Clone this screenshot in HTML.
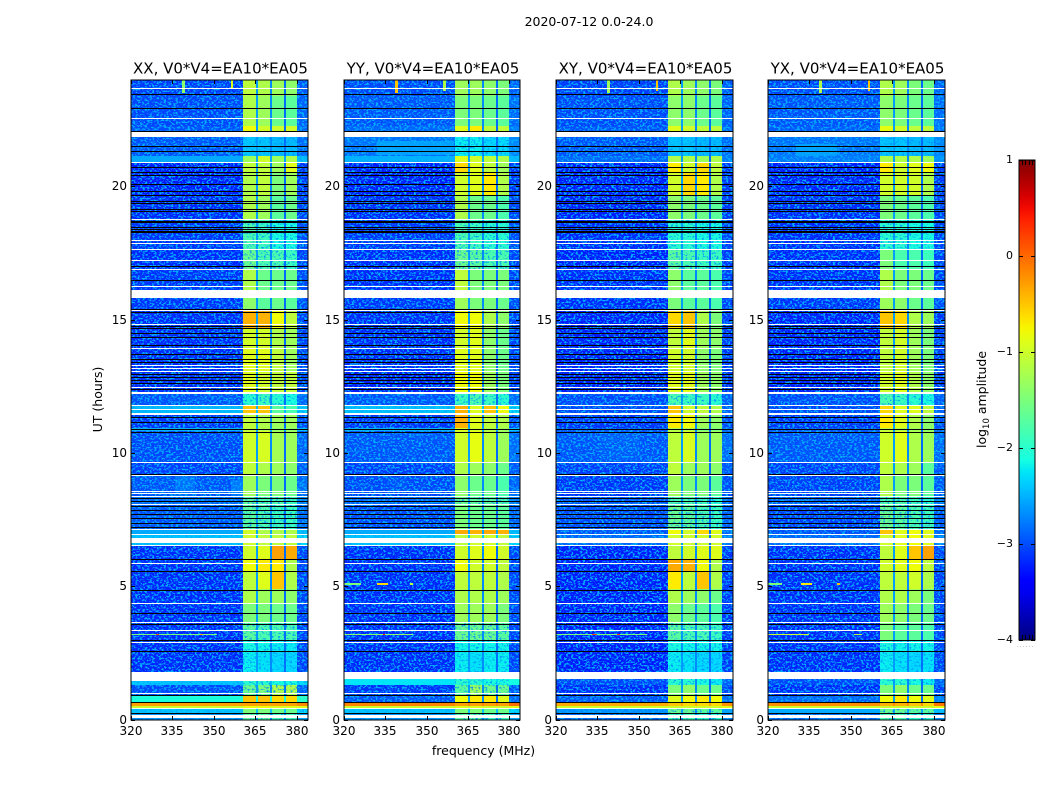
<!DOCTYPE html>
<html lang="en">
<head>
<meta charset="utf-8">
<title>2020-07-12 0.0-24.0</title>
<style>
html,body{margin:0;padding:0;background:#fff;width:1050px;height:800px;overflow:hidden}
svg{display:block}
text{font-family:"DejaVu Sans","Liberation Sans",sans-serif;fill:#000}
</style>
</head>
<body>
<svg id="figure" xmlns="http://www.w3.org/2000/svg" width="1050" height="800" viewBox="0 0 1050 800">
  <defs>
    <filter id="speckle" x="0" y="0" width="100%" height="100%" color-interpolation-filters="sRGB">
      <feTurbulence type="fractalNoise" baseFrequency="0.42 0.55" numOctaves="2" seed="7"/>
      <feColorMatrix type="matrix" values="0 0 0 0 0  0 0 0 0 0.68  0 0 0 0 1  9 0 0 0 -4.6"/>
      <feComposite operator="in" in2="SourceAlpha"/>
    </filter>
    <filter id="band-speckle" x="0" y="0" width="100%" height="100%" color-interpolation-filters="sRGB">
      <feTurbulence type="fractalNoise" baseFrequency="0.42 0.55" numOctaves="2" seed="23"/>
      <feColorMatrix type="matrix" values="0 0 0 0 0  0 0 0 0 0.55  0 0 0 0 1  4 0 0 0 -2.1"/>
      <feComposite operator="in" in2="SourceAlpha"/>
    </filter>
    <linearGradient id="jet-gradient" x1="0" y1="1" x2="0" y2="0"></linearGradient>
  </defs>
  <text x="589" y="26" text-anchor="middle" font-size="12.5">2020-07-12 0.0-24.0</text>
  <text x="483.5" y="755" text-anchor="middle" font-size="12.5">frequency (MHz)</text>
  <text transform="translate(102,399.5) rotate(-90)" text-anchor="middle" font-size="12.5">UT (hours)</text>
  <g id="panels"></g>
  <g id="colorbar"></g>
  <text transform="translate(986,399.5) rotate(-90)" text-anchor="middle" font-size="12.5">log<tspan font-size="8.5" dy="3">10</tspan><tspan dy="-3"> amplitude</tspan></text>
</svg>
<script>
// ---------- chart data (values are log10 amplitude unless noted) ----------
const panelTitles = ["XX, V0*V4=EA10*EA05", "YY, V0*V4=EA10*EA05", "XY, V0*V4=EA10*EA05", "YX, V0*V4=EA10*EA05"];
const xTickValues = [320, 335, 350, 365, 380];
const yTickValues = [0, 5, 10, 15, 20];
const colorbarTicks = [1, 0, -1, -2, -3, -4];
const bandEdgesMHz = [[360.5, 365.2], [365.8, 370.2], [370.9, 375.2], [375.9, 380]];
const gapLevels = [-2.6, -2.7, -2.85];
// lower hour edge of each time block
const rowHours = [0, 0.27, 0.44, 0.52, 0.62, 0.69, 0.94, 1.31, 1.8, 2.6, 3.0, 3.66, 4.4, 4.9, 5.6, 6.05, 6.56, 6.99, 7.15, 8.05, 8.4, 9.2, 9.66, 10.84, 10.95, 11.44, 11.8, 12.25, 13.1, 13.95, 14.7, 15.37, 16.1, 16.9, 17.66, 18.8, 19.7, 20.55, 20.9, 21.15, 21.86, 22.28, 23.4];
// each row: background, band 1, band 2, band 3, band 4
const xxRows = [[-2.7,-1.7,-1.7,-1.9,-1.9],[-2.4,-1.5,-1.5,-1.6,-1.6],[-1.0,-0.8,-0.8,-0.9,-0.9],[-0.3,-0.3,-0.3,-0.3,-0.3],[-1.2,-0.9,-0.9,-0.9,-0.9],[-2.1,-0.5,-0.5,-0.6,-0.6],[-3.05,-1.6,-1.5,-1.2,-1.2],[-2.4,-2.0,-2.0,-2.1,-2.1],[-3.2,-2.2,-2.25,-2.3,-2.3],[-3.2,-2.1,-2.15,-2.2,-2.2],[-3.2,-1.7,-1.8,-1.8,-1.8],[-3.2,-1.5,-1.5,-1.6,-1.6],[-3.2,-1.2,-1.3,-1.3,-1.4],[-3.2,-1.1,-0.9,-0.5,-1.2],[-3.2,-0.8,-0.7,-0.7,-1.2],[-3.2,-1.0,-0.9,-0.3,-0.35],[-2.4,-1.0,-1.1,-1.1,-1.1],[-2.55,-1.0,-1.2,-1.2,-1.2],[-3.0,-1.7,-1.8,-1.9,-1.9],[-2.9,-1.7,-1.8,-1.8,-1.9],[-3.0,-1.3,-1.5,-1.5,-1.6],[-3.1,-1.1,-1.2,-1.3,-1.4],[-3.05,-1.0,-0.95,-1.25,-1.3],[-2.5,-1.1,-1.2,-1.4,-1.4],[-3.15,-1.1,-1.2,-1.3,-1.3],[-2.45,-0.5,-0.5,-1.7,-1.8],[-3.0,-2.0,-1.9,-2.0,-2.1],[-3.2,-0.9,-1.0,-1.1,-1.1],[-3.2,-0.9,-0.9,-1.1,-1.3],[-3.2,-1.0,-1.0,-1.2,-1.3],[-3.2,-0.4,-0.4,-0.8,-1.1],[-3.15,-1.4,-1.7,-1.6,-1.7],[-3.15,-1.2,-1.6,-1.6,-1.6],[-3.2,-1.6,-1.8,-1.8,-1.9],[-3.15,-1.8,-1.9,-2.1,-2.1],[-3.2,-1.2,-1.3,-1.7,-1.6],[-3.25,-1.2,-1.1,-1.5,-1.3],[-3.25,-1.1,-1.1,-1.3,-0.9],[-2.55,-1.3,-1.0,-1.3,-1.2],[-3.0,-2.4,-2.4,-2.45,-2.45],[-3.0,-0.8,-1.0,-1.0,-1.0],[-3.05,-1.2,-1.3,-1.6,-1.7],[-3.1,-1.1,-1.2,-1.3,-1.4]];
const yyRows = [[-2.7,-1.7,-1.7,-1.9,-1.9],[-2.4,-1.5,-1.5,-1.6,-1.6],[-1.0,-0.9,-0.9,-1.0,-1.0],[-0.15,-0.3,-0.3,-0.3,-0.3],[-1.0,-0.7,-0.7,-0.8,-0.9],[-3.0,-0.8,-0.7,-0.7,-0.9],[-3.15,-1.7,-1.3,-1.6,-1.6],[-2.25,-2.0,-2.0,-2.1,-2.1],[-3.2,-2.2,-2.25,-2.2,-2.2],[-3.2,-2.15,-2.15,-2.15,-2.15],[-3.2,-1.6,-1.6,-1.6,-1.7],[-3.2,-1.3,-1.3,-1.3,-1.5],[-3.2,-1.2,-1.2,-1.2,-1.3],[-3.2,-1.1,-1.1,-1.1,-1.2],[-3.2,-0.8,-1.0,-1.0,-1.1],[-3.2,-1.0,-0.9,-0.8,-1.0],[-2.4,-1.1,-1.0,-1.0,-1.1],[-2.55,-0.35,-0.4,-0.35,-0.4],[-3.05,-1.5,-1.6,-1.6,-1.7],[-2.9,-1.6,-1.7,-1.7,-1.8],[-3.05,-1.4,-1.6,-1.6,-1.8],[-3.1,-1.2,-1.3,-1.4,-1.6],[-3.0,-1.0,-0.85,-1.1,-1.3],[-2.5,-0.9,-1.0,-1.2,-1.3],[-3.15,-0.4,-0.9,-1.1,-1.2],[-2.4,-0.4,-0.9,-0.5,-0.8],[-3.0,-1.9,-1.8,-1.9,-2.0],[-3.25,-0.8,-0.8,-1.3,-1.5],[-3.2,-0.9,-0.9,-1.4,-1.6],[-3.2,-1.0,-0.9,-1.4,-1.6],[-3.2,-0.8,-0.8,-1.2,-1.4],[-3.15,-1.3,-1.5,-1.5,-1.6],[-3.2,-1.1,-1.5,-1.5,-1.5],[-3.2,-1.6,-1.7,-1.8,-1.8],[-3.15,-1.8,-1.9,-2.0,-2.0],[-3.2,-1.2,-1.6,-1.6,-1.8],[-3.25,-1.0,-0.9,-0.7,-1.2],[-3.25,-0.6,-0.9,-1.1,-1.3],[-2.55,-0.9,-1.0,-1.1,-1.2],[-2.85,-2.2,-2.2,-2.3,-2.3],[-2.9,-0.9,-0.7,-1.1,-1.1],[-3.0,-1.5,-1.5,-1.6,-1.7],[-3.05,-1.3,-1.3,-1.4,-1.5]];
const xyRows = [[-2.9,-1.9,-1.9,-2.0,-2.0],[-2.7,-1.6,-1.6,-1.7,-1.7],[-1.0,-1.0,-1.0,-1.0,-1.0],[-0.35,-0.5,-0.6,-0.6,-0.6],[-1.1,-0.9,-0.9,-0.9,-1.0],[-3.0,-0.9,-0.8,-0.7,-0.8],[-3.2,-1.5,-1.4,-1.6,-1.6],[-3.05,-2.0,-2.0,-2.1,-2.2],[-3.25,-2.2,-2.25,-2.3,-2.3],[-3.25,-2.1,-2.15,-2.15,-2.15],[-3.25,-1.7,-1.8,-1.8,-1.9],[-3.25,-1.4,-1.6,-1.7,-1.8],[-3.25,-1.2,-1.3,-1.4,-1.6],[-3.25,-0.7,-1.1,-0.5,-1.2],[-3.25,-0.35,-0.4,-0.8,-1.2],[-3.25,-1.1,-1.0,-0.9,-0.9],[-2.9,-1.0,-1.0,-1.0,-1.0],[-3.0,-0.8,-1.0,-0.6,-0.9],[-3.05,-1.6,-1.7,-1.8,-1.9],[-3.0,-1.8,-1.8,-1.9,-2.0],[-3.15,-1.3,-1.5,-1.5,-1.7],[-3.1,-1.1,-1.3,-1.3,-1.4],[-3.0,-1.1,-0.95,-1.3,-1.3],[-3.0,-1.2,-1.2,-1.5,-1.5],[-3.15,-0.7,-0.8,-1.3,-1.4],[-3.05,-0.5,-1.0,-1.1,-1.2],[-3.05,-1.8,-1.9,-1.9,-2.0],[-3.25,-0.9,-0.9,-1.3,-1.4],[-3.25,-1.0,-1.0,-1.4,-1.5],[-3.25,-1.1,-0.9,-1.3,-1.4],[-3.25,-0.6,-0.5,-1.2,-1.5],[-3.2,-1.5,-1.7,-1.7,-1.8],[-3.2,-1.4,-1.7,-1.7,-1.8],[-3.25,-1.7,-1.8,-1.9,-1.9],[-3.2,-2.0,-2.0,-2.1,-2.1],[-3.25,-1.4,-1.5,-1.6,-1.7],[-3.25,-1.0,-0.6,-0.7,-1.2],[-3.25,-0.7,-1.0,-0.6,-1.1],[-2.9,-1.2,-1.2,-1.3,-1.2],[-3.0,-2.4,-2.4,-2.45,-2.45],[-3.0,-0.9,-1.0,-1.1,-1.1],[-3.05,-1.4,-1.4,-1.6,-1.7],[-3.1,-1.2,-1.3,-1.4,-1.5]];
const yxRows = [[-2.9,-1.8,-1.8,-2.0,-2.0],[-2.55,-1.6,-1.6,-1.7,-1.7],[-1.0,-1.0,-1.0,-1.0,-1.0],[-0.2,-0.4,-0.4,-0.5,-0.6],[-1.1,-0.9,-0.8,-0.9,-1.0],[-2.9,-0.8,-0.7,-0.8,-0.9],[-3.2,-1.5,-1.4,-1.6,-1.6],[-3.05,-2.0,-2.0,-2.1,-2.2],[-3.2,-2.2,-2.25,-2.3,-2.25],[-3.2,-2.1,-2.15,-2.15,-2.15],[-3.2,-1.5,-1.7,-1.7,-1.8],[-3.2,-1.3,-1.4,-1.5,-1.6],[-3.2,-1.2,-1.2,-1.3,-1.5],[-3.2,-1.1,-1.1,-1.0,-1.2],[-3.2,-1.0,-0.9,-0.8,-1.1],[-3.2,-1.1,-0.9,-0.5,-0.3],[-2.9,-1.0,-0.9,-0.8,-0.9],[-3.0,-0.5,-0.9,-0.8,-0.9],[-3.1,-1.6,-1.7,-1.8,-1.9],[-2.95,-1.8,-1.8,-1.9,-2.0],[-3.1,-1.2,-1.5,-1.5,-1.7],[-3.1,-1.1,-1.2,-1.3,-1.7],[-3.0,-1.0,-0.9,-1.2,-1.3],[-3.0,-1.1,-1.2,-1.3,-1.4],[-3.15,-0.7,-0.9,-1.2,-1.4],[-3.05,-0.6,-0.9,-0.9,-1.1],[-3.05,-1.8,-1.9,-2.0,-2.1],[-3.25,-1.0,-0.9,-1.2,-1.4],[-3.25,-1.1,-1.0,-1.3,-1.5],[-3.25,-1.1,-1.0,-1.3,-1.5],[-3.25,-0.5,-0.6,-1.2,-1.3],[-3.15,-1.3,-1.4,-1.6,-1.7],[-3.2,-1.2,-1.5,-1.5,-1.6],[-3.2,-1.5,-1.8,-1.8,-1.9],[-3.2,-2.0,-2.0,-2.1,-2.1],[-3.2,-1.5,-1.6,-1.7,-1.8],[-3.25,-1.0,-1.0,-1.0,-1.2],[-3.25,-0.7,-1.0,-0.9,-0.8],[-2.8,-1.2,-1.2,-1.2,-1.3],[-2.85,-2.4,-2.4,-2.45,-2.45],[-2.95,-0.85,-1.0,-1.1,-1.1],[-3.0,-1.4,-1.5,-1.6,-1.7],[-3.05,-1.2,-1.3,-1.5,-1.6]];
// localized features: panel, hour from, hour to, MHz from, MHz to, value
const patchCells = [
  [0,23.5,24,338.5,339.5,-1.4],[0,23.65,24,356,357,-0.9],[1,23.5,24,338.5,339.5,-0.5],[1,23.6,24,356,357,-1.2],
  [2,23.5,24,338.5,339.5,-1.3],[2,23.6,24,356,357,-0.5],[3,23.5,24,338.5,339.5,-1.2],[3,23.6,24,356,357,-0.5],
  [1,21.2,21.7,332,360,-2.6],[1,20.98,21.15,320,360,-2.5],[3,21.15,21.6,330,345,-2.6],
  [0,3.19,3.24,320,351,-1.5],[0,3.19,3.24,329,330,0.2],[0,3.19,3.24,345,346,-0.4],
  [1,3.19,3.24,320,345,-1.4],[1,3.19,3.24,334,335,0.4],[1,5.07,5.12,320,326,-1.5],[1,5.07,5.12,332,336,-0.6],[1,5.07,5.12,344,345,-1.1],
  [2,3.19,3.24,320,353,-1.5],[2,3.19,3.24,333,335,0.2],[2,3.19,3.24,342,343,0.3],
  [3,3.19,3.24,320,335,-1.0],[3,3.19,3.24,351,354,-1.2],[3,5.07,5.12,320,325,-1.5],[3,5.07,5.12,332,336,-0.7],[3,5.07,5.12,345,346,-0.5],
  [0,8.4,9.2,336,343,-2.85],[0,8.4,9.0,356,360.5,-2.8],[2,9.7,10.9,336,350,-2.95],[1,8.6,9.1,336,343,-3.0]
];
// flagged data drawn white: thick bands [hour from, hour to], thin lines [hour]
const whiteBands = [[21.86,22.04],[20.88,20.94],[15.81,16.1],[12.23,12.29],[11.44,11.51],[6.63,6.81],[1.55,1.8],[0.08,0.19]];
const whiteLines = [23.69,22.56,18.8,17.99,17.89,17.66,17.24,16.91,16.26,16.14,15.36,14.86,13.94,13.32,13.2,13.08,12.49,11.8,11.67,9.66,9.18,8.6,8.51,8.41,8.11,7.15,6.99,6.56,5.88,4.39,3.66,3.36,2.91,1.0,0.44];
const xxExtraWhite = [[1.46,1.53]];
const blackLines = [23.46,22.94,22.09,21.51,21.35,20.73,20.55,20.43,20.11,19.83,19.68,19.47,19.4,19.17,19.08,18.72,18.66,18.5,18.42,18.35,18.31,17.04,16.49,15.42,15.29,14.76,14.7,14.51,14.35,14.07,13.73,13.55,13.44,12.98,12.86,12.76,12.64,12.42,11.37,11.18,10.92,10.81,9.22,8.33,8.21,8.04,7.88,7.73,7.56,7.4,7.23,6.03,5.58,4.88,4.0,3.59,2.99,2.59,0.94,0.69,0.25];

// ---------- layout ----------
const panelRows = [xxRows, yyRows, xyRows, yxRows];
const panelLeft = [131, 344, 556, 768];
const panelRight = [308, 520, 733, 945];
const plotTop = 80, plotBottom = 720;
const freqMin = 320, freqMax = 384, hourMin = 0, hourMax = 24;
const cbarLeft = 1019, cbarRight = 1035, cbarTop = 160, cbarBottom = 640, cbarMin = -4, cbarMax = 1;
const NS = "http://www.w3.org/2000/svg";

function yScale(h) { return plotBottom - (h - hourMin) / (hourMax - hourMin) * (plotBottom - plotTop); }
function xScale(p, f) { return panelLeft[p] + (f - freqMin) / (freqMax - freqMin) * (panelRight[p] - panelLeft[p]); }
function cbarScale(v) { return cbarBottom - (v - cbarMin) / (cbarMax - cbarMin) * (cbarBottom - cbarTop); }
function clamp01(t) { return Math.max(0, Math.min(1, t)); }
function ramp(t, pts) {
  for (let i = 1; i < pts.length; i++) {
    if (t <= pts[i][0]) {
      const a = pts[i - 1], b = pts[i];
      return a[1] + (b[1] - a[1]) * (t - a[0]) / (b[0] - a[0]);
    }
  }
  return pts[pts.length - 1][1];
}
function jet(v) {
  const t = clamp01((v - cbarMin) / (cbarMax - cbarMin));
  const r = ramp(t, [[0,0],[0.35,0],[0.66,1],[0.89,1],[1,0.5]]);
  const g = ramp(t, [[0,0],[0.125,0],[0.375,1],[0.64,1],[0.91,0],[1,0]]);
  const b = ramp(t, [[0,0.5],[0.11,1],[0.34,1],[0.65,0],[1,0]]);
  return "rgb(" + Math.round(r * 255) + "," + Math.round(g * 255) + "," + Math.round(b * 255) + ")";
}
function node(tag, parent, attrs) {
  const el = document.createElementNS(NS, tag);
  for (const k in attrs) el.setAttribute(k, attrs[k]);
  parent.appendChild(el);
  return el;
}
function label(parent, x, y, str, anchor, size) {
  const el = node("text", parent, { x: x, y: y, "text-anchor": anchor, "font-size": size });
  el.textContent = str;
  return el;
}
function crispRect(parent, x0, x1, y0, y1, fill) {
  const yt = Math.round(y0), yb = Math.round(y1);
  return node("rect", parent, { x: Math.round(x0), y: yt, width: Math.max(1, Math.round(x1) - Math.round(x0)), height: Math.max(1, yb - yt), fill: fill, "shape-rendering": "crispEdges" });
}

// ---------- panels ----------
const panelsGroup = document.getElementById("panels");
panelTitles.forEach(function (title, p) {
  const g = node("g", panelsGroup, {});
  
  

  const rows = panelRows[p];
  const L = panelLeft[p], R = panelRight[p];
  const bgEnd = freqMax;
  let speckle = "";
  let bandSpeckle = "";

  rows.forEach(function (row, r) {
    const h0 = rowHours[r], h1 = r + 1 < rowHours.length ? rowHours[r + 1] : hourMax;
    const yb = yScale(h0), yt = yScale(h1);
    // background, left and right of the observing band
    const left = crispRect(g, xScale(p, freqMin), xScale(p, bandEdgesMHz[0][0]), yt, yb, jet(row[0]));
    
    
    const right = crispRect(g, xScale(p, bandEdgesMHz[3][1]), xScale(p, bgEnd), yt, yb, jet(row[0] + 0.12));
    
    
    const a = Math.round(yt), b = Math.round(yb), xa = Math.round(xScale(p, bandEdgesMHz[0][0])), xb = Math.round(xScale(p, bandEdgesMHz[3][1]));
    if (row[0] < -2.3) {
      speckle += "M" + L + " " + a + "H" + xa + "V" + b + "H" + L + "Z";
      speckle += "M" + xb + " " + a + "H" + R + "V" + b + "H" + xb + "Z";
    }
    if (row[1] <= -1.6) {
      bandSpeckle += "M" + xa + " " + a + "H" + xb + "V" + b + "H" + xa + "Z";
    }
  });

  patchCells.forEach(function (c) {
    if (c[0] !== p || c[5] >= -2) return;
    const glow = crispRect(g, xScale(p, c[3]), xScale(p, c[4]), yScale(c[2]), yScale(c[1]), jet(c[5]));
    
    
  });

  const spk = node("path", g, { d: speckle, fill: "#000", filter: "url(#speckle)", "shape-rendering": "crispEdges" });
  
  

  rows.forEach(function (row, r) {
    const h0 = rowHours[r], h1 = r + 1 < rowHours.length ? rowHours[r + 1] : hourMax;
    const yb = yScale(h0), yt = yScale(h1);
    bandEdgesMHz.forEach(function (edge, b) {
      const cell = crispRect(g, xScale(p, edge[0]), xScale(p, edge[1]), yt, yb, jet(row[b + 1]));
      
      
      if (b < 3) {
        const gap = crispRect(g, xScale(p, edge[1]), xScale(p, bandEdgesMHz[b + 1][0]), yt, yb, jet(Math.max(gapLevels[b], row[0])));
        
        
      }
    });
  });

  const bspk = node("path", g, { d: bandSpeckle, fill: "#000", filter: "url(#band-speckle)", "shape-rendering": "crispEdges" });
  
  

  patchCells.forEach(function (c) {
    if (c[0] !== p || c[5] < -2) return;
    const patch = crispRect(g, xScale(p, c[3]), xScale(p, c[4]), yScale(c[2]), yScale(c[1]), jet(c[5]));
    
    
  });

  whiteBands.concat(p === 0 ? xxExtraWhite : []).forEach(function (w) {
    const band = crispRect(g, L, R, yScale(w[1]), yScale(w[0]), "#fff");
    
    
  });
  whiteLines.forEach(function (h) {
    const y = Math.round(yScale(h));
    const line = crispRect(g, L, R, y, y + 1, "#fff");
    
    
  });
  blackLines.forEach(function (h) {
    const y = Math.round(yScale(h));
    const line = crispRect(g, L, R, y, y + 1, "#000");
    
    
  });

  // ticks (inward, on all sides)
  xTickValues.forEach(function (f) {
    const x = Math.round(xScale(p, f));
    const tb = node("rect", g, { x: x, y: plotBottom - 4, width: 1, height: 4, fill: "#000", "shape-rendering": "crispEdges" });
    
    
    const tt = node("rect", g, { x: x, y: plotTop, width: 1, height: 4, fill: "#000", "shape-rendering": "crispEdges" });
    
    
    const lab = label(g, x, 735, String(f), "middle", 12);
    
    
  });
  yTickValues.forEach(function (h) {
    const y = Math.floor(yScale(h));
    const tl = node("rect", g, { x: L, y: y, width: 4, height: 1, fill: "#000", "shape-rendering": "crispEdges" });
    
    
    const tr = node("rect", g, { x: R - 4, y: y, width: 4, height: 1, fill: "#000", "shape-rendering": "crispEdges" });
    
    
    const lab = label(g, L - 4, y + 4, String(h), "end", 12);
    
    
  });

  const frame = node("rect", g, { x: L, y: plotTop, width: R - L, height: plotBottom - plotTop, fill: "none", stroke: "#000", "stroke-width": 1 });
  
  

  const ttl = label(g, (L + R) / 2 + 1, 73.5, title, "middle", 15);
  
  
});

// ---------- colorbar ----------
const grad = document.getElementById("jet-gradient");
for (let i = 0; i <= 40; i++) {
  node("stop", grad, { offset: (i / 40 * 100) + "%", "stop-color": jet(cbarMin + (cbarMax - cbarMin) * i / 40) });
}
const cbar = document.getElementById("colorbar");
const cbarFill = node("rect", cbar, { x: cbarLeft, y: cbarTop, width: cbarRight - cbarLeft, height: cbarBottom - cbarTop, fill: "url(#jet-gradient)" });


colorbarTicks.forEach(function (v) {
  const y = Math.round(cbarScale(v));
  const a = node("rect", cbar, { x: cbarLeft, y: y, width: 4, height: 1, fill: "#000", "shape-rendering": "crispEdges" });
  
  
  const b = node("rect", cbar, { x: cbarRight - 4, y: y, width: 4, height: 1, fill: "#000", "shape-rendering": "crispEdges" });
  
  
  const lab = label(cbar, 1013, y + 3, v < 0 ? "\u2212" + Math.abs(v) : String(v), "end", 11);
  
  
});
[0.2, 0.4, 0.6, 0.8].forEach(function (frac) {
  const x = Math.round(cbarLeft + frac * (cbarRight - cbarLeft));
  const t = node("rect", cbar, { x: x, y: cbarTop, width: 1, height: 5, fill: "#000", "shape-rendering": "crispEdges" });
  
  
  const bt = node("rect", cbar, { x: x, y: cbarBottom - 5, width: 1, height: 5, fill: "#000", "shape-rendering": "crispEdges" });
  
  
});
const cbarFrame = node("rect", cbar, { x: cbarLeft, y: cbarTop, width: cbarRight - cbarLeft, height: cbarBottom - cbarTop, fill: "none", stroke: "#000", "stroke-width": 1 });


const cbarDots = label(cbar, 1026, 647, "......", "middle", 5);


cbarDots.setAttribute("letter-spacing", "1.4");
cbarDots.style.fill = "#555";
</script>
</body>
</html>
